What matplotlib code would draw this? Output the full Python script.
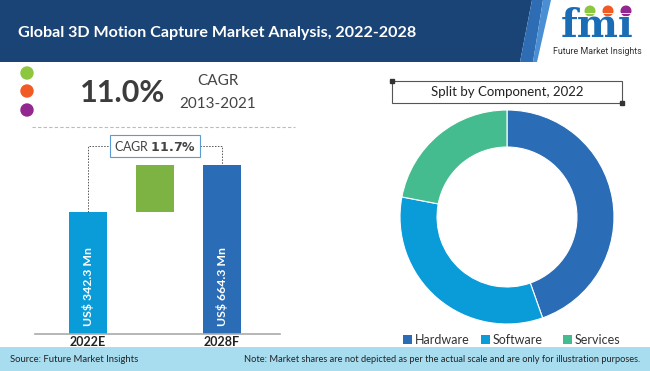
import matplotlib
matplotlib.use("Agg")
import matplotlib.pyplot as plt
from matplotlib.patches import Polygon, Rectangle, Circle

plt.rcParams['font.family'] = ['Lato', 'DejaVu Sans']

# data
title = "Global 3D Motion Capture Market Analysis, 2022-2028"
hist_cagr = "11.0%"
hist_period = "2013-2021"
bar_labels = ["2022E", "2028F"]
bar_values = [342.3, 664.3]          # US$ Mn
bar_heights = [0.72, 1.0]            # bars are not to scale, relative heights
forecast_cagr = "11.7%"
components = ["Hardware", "Software", "Services"]
shares = [44.6, 33.4, 22.0]

navy = "#1b4476"
c_light = "#0a9bd9"
c_dark = "#2a6cb5"
c_green = "#7cb342"
c_serv = "#45bc8f"
comp_colors = [c_dark, c_light, c_serv]
W, H = 650, 371

fig = plt.figure(figsize=(6.5, 3.71), dpi=100)
bg = fig.add_axes([0, 0, 1, 1])
bg.set_xlim(0, W)
bg.set_ylim(H, 0)
bg.axis("off")

# header banner
bg.add_patch(Polygon([(0, 0), (532, 0), (520, 62), (0, 62)], color=navy, lw=0))
bg.add_patch(Polygon([(532, 0), (543, 0), (533, 62), (520, 62)], color="#2e6db4", lw=0))
bg.add_patch(Polygon([(543, 0), (551, 0), (537, 62), (533, 62)], color="#4a8fd3", lw=0))
bg.text(18, 33, title, color="white", fontsize=11.6, fontweight="bold", va="center")

# logo
bg.text(597, 37, "fm\u0131", family="DejaVu Serif", fontweight="bold", fontsize=28,
        color="#1a6db5", ha="center", va="baseline")
for yy in range(13, 38, 3):
    bg.plot([550, 645], [yy, yy], color="white", lw=0.6)
for cx, col in zip([590, 608, 626], ["#8dc63f", "#f15a22", "#92278f"]):
    bg.add_patch(Circle((cx, 11), 4.8, color=col))
bg.text(597, 52, "Future Market Insights", family="Roboto", fontsize=6.4,
        color="#333333", ha="center", va="center")

# historical CAGR block
for cy, col in zip([73, 91, 110], ["#8dc63f", "#f15a22", "#92278f"]):
    bg.add_patch(Circle((27, cy), 6, color=col))
bg.text(123, 93, hist_cagr, fontsize=22, color="#3c3c3c", ha="center", va="center",
        fontweight="bold")
bg.text(218, 81, "CAGR", fontsize=11, color="#444444", ha="center", va="center")
bg.text(218, 104, hist_period, fontsize=11, color="#444444", ha="center", va="center")
bg.plot([32, 295], [127, 127], color="#bbbbbb", lw=0.8, ls=(0, (3, 2)))

# footer
bg.add_patch(Rectangle((0, 347), W, H - 347, color="#a8ddf0", lw=0))
bg.text(10, 359, "Source: Future Market Insights", fontsize=6.8, color="#222222", va="center")
bg.text(640, 359, "Note: Market shares are not depicted as per the actual scale and are only for illustration purposes.",
        fontsize=6.7, color="#222222", va="center", ha="right")

# bar chart
axb = fig.add_axes([35 / W, (H - 334) / H, 245 / W, 204 / H])
xs = [0, 2]
axb.bar(xs, bar_heights, width=0.58, color=[c_light, c_dark])
axb.bar(1, bar_heights[1] - bar_heights[0], bottom=bar_heights[0], width=0.58, color=c_green)
axb.set_xlim(-0.791, 2.866)
axb.set_ylim(0, 1.207)
for s in ["top", "right", "left"]:
    axb.spines[s].set_visible(False)
axb.spines["bottom"].set_color("#aaaaaa")
axb.spines["bottom"].set_linewidth(1.2)
axb.set_yticks([])
axb.set_xticks([])
for x, lab in zip(xs, bar_labels):
    axb.text(x, -0.04, lab, transform=axb.get_xaxis_transform(), fontweight="bold",
             fontsize=9, color="#222222", ha="center", va="center")
for x, v in zip(xs, bar_values):
    axb.text(x, 0.05, f"US$ {v} Mn", rotation=90, color="white", fontweight="bold",
             fontsize=8.8, ha="center", va="bottom")
yc = 1.112
axb.plot([0, 0, 2, 2], [bar_heights[0], yc, yc, bar_heights[1]], color="#555555",
         lw=0.7, ls=(0, (1.5, 1.5)), clip_on=False)
axb.text(1, yc, "CAGR $\\bf{" + forecast_cagr.replace("%", "\\%") + "}$", fontsize=9,
         color="#444444", ha="center", va="center",
         bbox=dict(boxstyle="square,pad=0.35", fc="white", ec="#5b9bd5", lw=0.8))

# donut
axd = fig.add_axes([400 / W, (H - 324) / H, 214 / W, 214 / H])
axd.pie(shares, colors=comp_colors, startangle=90, counterclock=False, radius=1,
        wedgeprops=dict(width=0.346, edgecolor="white", linewidth=0.8))
axd.set_xlim(-1, 1)
axd.set_ylim(-1, 1)

# donut title box
bg.add_patch(Rectangle((392, 81), 230, 22, fill=False, ec="#555555", lw=0.8))
bg.add_patch(Rectangle((390, 79), 4, 4, color="#333333"))
bg.add_patch(Rectangle((620, 101), 4, 4, color="#333333"))
bg.text(507, 92, "Split by Component, 2022", fontsize=9.5, color="#222222",
        ha="center", va="center")

# legend
for sx, tx, name, col in zip([403, 481, 563], [415, 493, 575], components, comp_colors):
    bg.add_patch(Rectangle((sx, 335), 8.5, 8.5, color=col, lw=0))
    bg.text(tx, 339.5, name, fontsize=9, color="#333333", va="center")

fig.savefig("out.png", dpi=100)
